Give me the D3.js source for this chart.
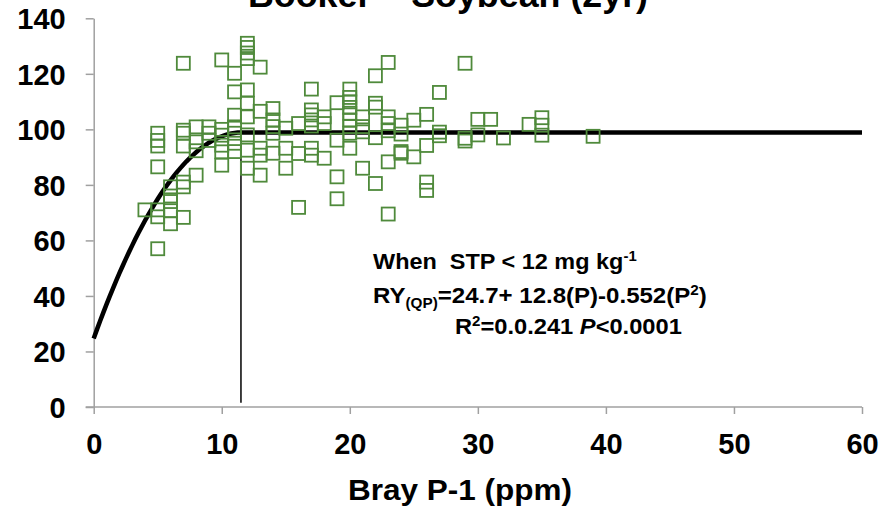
<!DOCTYPE html>
<html>
<head>
<meta charset="utf-8">
<script src="https://cdn.jsdelivr.net/npm/d3@7"></script>
<style>
  body { margin: 0; background: #fff; }
  svg { display: block; }
  text { font-family: "Liberation Sans", Arial, sans-serif; font-weight: bold; white-space: pre; }
</style>
</head>
<body>
<div id="chart"></div>
<script>
// Bray P-1 (ppm) and relative yield of every plot
var bayP = [4, 5, 5, 5, 5, 5, 5, 5,
  6, 6, 6, 6, 6,
  7, 7, 7, 7, 7, 7, 7,
  8, 8, 8, 8,
  9, 9, 9,
  10, 10, 10, 10, 10, 10,
  11, 11, 11, 11, 11, 11, 11,
  12, 12, 12, 12, 12, 12, 12, 12, 12, 12,
  13, 13, 13, 13, 13,
  14, 14, 14, 14, 14,
  15, 15, 15,
  16, 16, 16,
  17, 17, 17, 17, 17, 17, 17,
  18, 18, 18,
  19, 19, 19, 19,
  20, 20, 20, 20, 20, 20, 20, 20, 20,
  21, 21, 21, 21,
  22, 22, 22, 22, 22,
  23, 23, 23, 23, 23, 23,
  24, 24, 24, 24,
  25, 25,
  26, 26, 26, 26,
  27, 27, 27,
  29, 29, 29,
  30, 30,
  31,
  32,
  34,
  35, 35, 35,
  39]
var relYield = [71, 98.6, 96, 94, 86.5, 71, 68.5, 57,
  79.3, 76, 74, 70.7, 66,
  123.8, 99.7, 98.6, 94, 81, 79.3, 68.3,
  100.9, 95.5, 92.3, 83.5,
  100.9, 98.6, 96,
  125, 100, 97.9, 94.3, 91.9, 87.1,
  120.2, 113.5, 105.1, 100.9, 98.6, 95, 92,
  131, 129.5, 127.5, 125.5, 114.2, 109.4, 104.5, 98, 92.5, 86,
  122.4, 106.5, 93.2, 90.7, 83.5,
  107.5, 103.4, 101, 98.6, 91.4,
  100.4, 93.2, 86,
  102.1, 91.3, 71.9,
  114.5, 107, 105.2, 103.4, 101.2, 93.2, 90.7,
  104.5, 102.1, 89.6,
  109.6, 96.1, 82.9, 75,
  114.5, 111.5, 109.9, 107.9, 105.8, 103.4, 101, 98.6, 93.2,
  104.5, 101, 99.1, 86,
  119.3, 109.4, 108, 97, 80.5,
  124.1, 104.5, 102.1, 99.5, 88.3, 69.5,
  101.5, 98.3, 92, 91.4,
  103.3, 90.1,
  105.4, 94.2, 81, 78,
  113.3, 99, 97.7,
  123.8, 96.8, 95.8,
  103.6, 98,
  103.6,
  96.9,
  101.8,
  104.2, 101.5, 97.9,
  97.5]

var xTicks = [0, 10, 20, 30, 40, 50, 60]
var yTicks = [0, 20, 40, 60, 80, 100, 120, 140]

// quadratic-plateau fit: RY = 24.7 + 12.8 P - 0.552 P^2
var fitCoef = [24.7, 12.8, -0.552]
var critical = [11.5, 1.5, 95]   // x, bottom, top of the marker line

var width = 881, height = 510

var svg = d3.select("#chart").append("svg")
  .attr("width", width)
  .attr("height", height)

var x = d3.scaleLinear().domain([0, 60]).range([93.7, 862])
var y = d3.scaleLinear().domain([0, 140]).range([407, 18.3])

// axes
var xAxis = svg.append("g")
  .attr("transform", "translate(0," + y(0) + ")")
  .call(d3.axisBottom(x).tickValues(xTicks).tickSize(7).tickPadding(19).tickSizeOuter(0))
var yAxis = svg.append("g")
  .attr("transform", "translate(" + x(0) + ",0)")
  .call(d3.axisLeft(y).tickValues(yTicks).tickSize(8).tickPadding(20).tickSizeOuter(0))

svg.selectAll(".domain, .tick line")
  .attr("stroke", "#a0a0a0")
  .attr("stroke-width", 1.5)
xAxis.select(".domain").attr("d", "M" + (x(0) - 8) + ",0H" + x(60))

xAxis.selectAll(".tick text")
  .attr("font-size", 29)
  .attr("fill", "#000")
  .attr("font-family", "Liberation Sans, Arial, sans-serif")
  .attr("font-weight", "bold")
yAxis.selectAll(".tick text")
  .attr("font-size", 29)
  .attr("fill", "#000")
  .attr("font-family", "Liberation Sans, Arial, sans-serif")
  .attr("font-weight", "bold")
  .attr("dy", "0.36em")

// fitted curve
var joinP = -fitCoef[1] / (2 * fitCoef[2])
function fit(p) {
  var q = Math.min(p, joinP)
  return fitCoef[0] + fitCoef[1] * q + fitCoef[2] * q * q
}
var curveP = d3.range(0, joinP, 0.25).concat([joinP, 60])
svg.append("path")
  .datum(curveP)
  .attr("fill", "none")
  .attr("stroke", "#000")
  .attr("stroke-width", 4.5)
  .attr("d", d3.line().x(d => x(d)).y(d => y(fit(d))))

svg.append("line")
  .attr("x1", x(critical[0])).attr("x2", x(critical[0]))
  .attr("y1", y(critical[1])).attr("y2", y(critical[2]))
  .attr("stroke", "#000")
  .attr("stroke-width", 1.5)

// markers
var s = 13
svg.append("g").selectAll("rect")
  .data(bayP)
  .enter()
    .append("rect")
    .attr("x", (d) => x(d) - s / 2)
    .attr("y", (d, i) => y(relYield[i]) - s / 2)
    .attr("width", s)
    .attr("height", s)
    .attr("fill", "none")
    .attr("stroke", "#4f8a3b")
    .attr("stroke-width", 1.8)

// titles
svg.append("text")
  .attr("x", 448).attr("y", 7)
  .attr("text-anchor", "middle")
  .attr("font-size", 35)
  .attr("textLength", 400)
  .attr("lengthAdjust", "spacingAndGlyphs")
  .text("Booker – Soybean (2yr)")

svg.append("text")
  .attr("x", 460).attr("y", 500)
  .attr("text-anchor", "middle")
  .attr("font-size", 30)
  .attr("textLength", 224)
  .attr("lengthAdjust", "spacingAndGlyphs")
  .text("Bray P-1 (ppm)")

// annotation, each line squeezed to the width seen in the picture
function note(xLeft, yBase, target, parts) {
  var t = svg.append("text")
    .attr("x", xLeft).attr("y", yBase)
    .attr("font-size", 22)
  parts.forEach(function(p) {
    var sp = t.append("tspan").text(p.t)
    if (p.sup) sp.attr("font-size", 14).attr("dy", -8)
    if (p.sub) sp.attr("font-size", 14).attr("dy", 5)
    if (p.back) sp.attr("dy", p.back)
    if (p.it) sp.attr("font-style", "italic")
  })
  var w = t.node().getBBox().width
  t.attr("transform", "translate(" + xLeft + ",0) scale(" + (target / w) + ",1) translate(" + (-xLeft) + ",0)")
}
note(373, 269, 264, [{t: "When  STP < 12 mg kg"}, {t: "-1", sup: true}])
note(373, 303, 334, [{t: "RY"}, {t: "(QP)", sub: true}, {t: "=24.7+ 12.8(P)-0.552(P", back: -5},
  {t: "2", sup: true}, {t: ")", back: 8}])
note(455, 334, 227, [{t: "R"}, {t: "2", sup: true}, {t: "=0.0.241 ", back: 8}, {t: "P", it: true}, {t: "<0.0001"}])
</script>
</body>
</html>
